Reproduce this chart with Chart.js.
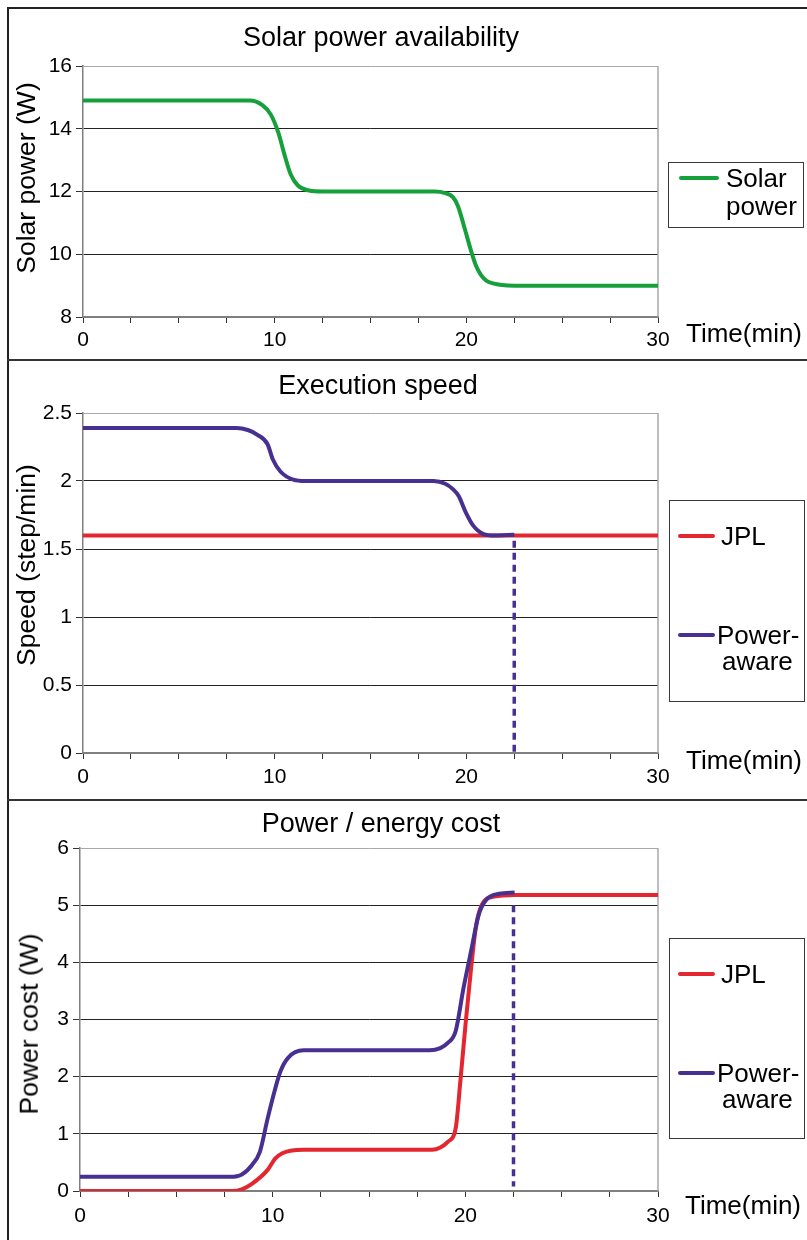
<!DOCTYPE html>
<html>
<head>
<meta charset="utf-8">
<script src="https://cdn.jsdelivr.net/npm/chart.js@4"></script>
<style>
  body { margin: 0; background: #fff; font-family: "Liberation Sans", Arial, sans-serif; }
  #page { position: relative; width: 807px; height: 1240px; overflow: hidden; }
  canvas { position: absolute; left: 0; }
  .txt { position: absolute; white-space: nowrap; color: #000; }
  .rot { position: absolute; white-space: nowrap; color: #000; transform: translate(-50%, -50%) rotate(-90deg); }
  .lgbox { position: absolute; border: 1.5px solid #3a3a3a; box-sizing: border-box; }
  .lgline { position: absolute; height: 4px; border-radius: 2px; }
  .hline { position: absolute; left: 7px; right: 0; height: 2px; background: #333; }
</style>
</head>
<body>
<div id="page">
  <div style="position:absolute;left:7px;top:7px;width:1.5px;height:1240px;background:#222"></div>
  <div style="position:absolute;left:7px;top:7px;right:0;height:1.5px;background:#222"></div>
  <div class="hline" style="top:359px"></div>
  <div class="hline" style="top:799px"></div>
  <canvas id="c1" width="807" height="360" style="top:0"></canvas>
  <canvas id="c2" width="807" height="440" style="top:360px"></canvas>
  <canvas id="c3" width="807" height="440" style="top:800px"></canvas>
</div>
<script>
"use strict";

// ---- data (time in min) ----
const solarT = [0, 8.7, 9.36, 9.8, 10.2, 10.5, 10.84, 11.2, 11.8, 12.5, 18.36, 18.9, 19.3, 19.56, 19.97, 20.25, 20.5, 20.75, 21.04, 21.4, 21.85, 22.5, 30];
const solarW = [14.9, 14.9, 14.75, 14.45, 13.86, 13.2, 12.54, 12.2, 12.03, 12.0, 12.0, 11.95, 11.82, 11.54, 10.7, 10.1, 9.64, 9.35, 9.16, 9.07, 9.02, 9.0, 9.0];

const speedT = [0, 8.0, 8.6, 9.1, 9.63, 9.9, 10.3, 10.97, 11.6, 18.3, 18.9, 19.3, 19.6, 19.97, 20.37, 20.9, 21.45, 22.5];
const speedAware = [2.39, 2.39, 2.375, 2.34, 2.27, 2.16, 2.07, 2.01, 2.0, 2.0, 1.98, 1.94, 1.89, 1.77, 1.67, 1.61, 1.6, 1.605];
const speedJplT = [0, 30];
const speedJpl = [1.6, 1.6];
const speedStopT = [22.5, 22.5];
const speedStop = [1.56, 0];

const costAwareT = [0, 7.8, 8.4, 8.94, 9.34, 9.74, 10.1, 10.4, 10.8, 11.6, 18.15, 18.7, 19.09, 19.5, 19.9, 20.3, 20.7, 21.1, 21.76, 22.56];
const costAware = [0.25, 0.25, 0.29, 0.46, 0.69, 1.27, 1.75, 2.09, 2.33, 2.46, 2.46, 2.5, 2.59, 2.8, 3.54, 4.2, 4.84, 5.1, 5.2, 5.22];
const costJplT = [0, 7.9, 8.4, 8.94, 9.74, 10.14, 10.5, 11.0, 11.6, 18.28, 18.7, 19.09, 19.5, 19.75, 20.02, 20.3, 20.55, 20.82, 21.48, 22.56, 30];
const costJpl = [0, 0, 0.03, 0.13, 0.37, 0.57, 0.66, 0.71, 0.72, 0.72, 0.76, 0.86, 1.1, 1.95, 2.95, 3.9, 4.62, 4.98, 5.15, 5.18, 5.18];
const costStopT = [22.5, 22.5];
const costStop = [5.0, 0.08];

const xLabelEvery = 10;
const GREEN = "#16a03c", RED = "#e3262f", PURPLE = "#47308f";

Chart.defaults.font.family = '"Liberation Sans", Arial, sans-serif';
Chart.defaults.color = "#000";

function pts(xs, ys) {
  return xs.map((x, i) => ({ x: x, y: ys[i] }));
}

// gray frame on the right side of the plot area
const plotFrame = {
  id: "plotFrame",
  beforeDatasetsDraw(chart) {
    const a = chart.chartArea, ctx = chart.ctx;
    ctx.save();
    ctx.strokeStyle = "#a8a8a8";
    ctx.lineWidth = 1.5;
    ctx.beginPath();
    ctx.moveTo(a.right, a.top);
    ctx.lineTo(a.right, a.bottom);
    ctx.stroke();
    ctx.restore();
  }
};

function panelChart(id, area, y, datasets) {
  return new Chart(document.getElementById(id), {
    type: "line",
    data: { datasets: datasets },
    options: {
      responsive: false,
      animation: false,
      devicePixelRatio: 1,
      layout: { padding: { top: area.top, right: 807 - area.right, left: 0, bottom: 0 } },
      elements: { point: { radius: 0 } },
      plugins: { legend: { display: false }, tooltip: { enabled: false } },
      scales: {
        x: {
          type: "linear", min: 0, max: 30,
          afterFit: s => { s.height = area.h - area.bottom; },
          border: { color: "#7f7f7f", width: 2 },
          grid: { drawOnChartArea: false, tickLength: 6, tickColor: "#333" },
          ticks: {
            stepSize: 2.5, autoSkip: false, maxRotation: 0, padding: area.labelPad,
            font: { size: 21 },
            callback: v => (v % xLabelEvery === 0 ? String(v) : "")
          }
        },
        y: {
          min: y.min, max: y.max,
          afterFit: s => { s.width = area.left; },
          border: { color: "#7f7f7f", width: 1.5 },
          grid: {
            tickLength: 7, tickColor: "#333",
            color: c => (c.tick.value === y.max ? "#a8a8a8" : "#222"),
            lineWidth: 1
          },
          ticks: { stepSize: y.step, padding: 4, font: { size: 21 }, callback: v => String(v) }
        }
      }
    },
    plugins: [plotFrame]
  });
}

function line(label, xs, ys, color, order, dash) {
  return {
    label: label,
    data: pts(xs, ys),
    borderColor: color,
    borderWidth: dash ? 3.5 : 4,
    borderDash: dash || [],
    cubicInterpolationMode: dash ? "default" : "monotone",
    tension: 0,
    fill: false,
    order: order
  };
}

panelChart("c1", { left: 83, right: 658, top: 66, bottom: 317, h: 360, labelPad: 5 }, { min: 8, max: 16, step: 2 }, [
  line("Solar power", solarT, solarW, GREEN, 0)
]);

panelChart("c2", { left: 83, right: 658, top: 53, bottom: 393, h: 440, labelPad: 6 }, { min: 0, max: 2.5, step: 0.5 }, [
  line("Power-aware", speedT, speedAware, PURPLE, 0),
  line("", speedStopT, speedStop, PURPLE, 1, [7, 5]),
  line("JPL", speedJplT, speedJpl, RED, 2)
]);

panelChart("c3", { left: 80, right: 658, top: 48, bottom: 391, h: 440, labelPad: 7 }, { min: 0, max: 6, step: 1 }, [
  line("Power-aware", costAwareT, costAware, PURPLE, 0),
  line("", costStopT, costStop, PURPLE, 1, [7, 5]),
  line("JPL", costJplT, costJpl, RED, 2)
]);

// ---- texts, legends ----
const page = document.getElementById("page");
function text(str, x, cy, size, center) {
  const d = document.createElement("div");
  d.className = "txt";
  d.textContent = str;
  d.style.fontSize = size + "px";
  d.style.lineHeight = size + "px";
  d.style.top = (cy - size / 2) + "px";
  d.style.left = x + "px";
  if (center) d.style.transform = "translateX(-50%)";
  page.appendChild(d);
}
function vtext(str, cx, cy, size) {
  const d = document.createElement("div");
  d.className = "rot";
  d.textContent = str;
  d.style.fontSize = size + "px";
  d.style.lineHeight = size + "px";
  d.style.left = cx + "px";
  d.style.top = cy + "px";
  page.appendChild(d);
}
function box(x1, y1, x2, y2) {
  const d = document.createElement("div");
  d.className = "lgbox";
  d.style.left = x1 + "px"; d.style.top = y1 + "px";
  d.style.width = (x2 - x1) + "px"; d.style.height = (y2 - y1) + "px";
  page.appendChild(d);
}
function swatch(x1, x2, cy, color) {
  const d = document.createElement("div");
  d.className = "lgline";
  d.style.left = x1 + "px"; d.style.width = (x2 - x1) + "px";
  d.style.top = (cy - 2) + "px"; d.style.background = color;
  page.appendChild(d);
}

text("Solar power availability", 381, 37, 27, true);
text("Execution speed", 378, 385, 27, true);
text("Power / energy cost", 381, 823, 27, true);

vtext("Solar power (W)", 26, 178, 26.5);
vtext("Speed (step/min)", 26, 565, 26.5);
vtext("Power cost (W)", 29, 1024, 26.5);

text("Time(min)", 686, 333, 26);
text("Time(min)", 686, 760, 26);
text("Time(min)", 685, 1205, 26);

box(668, 162, 804, 228);
swatch(679, 719, 178, GREEN);
text("Solar", 726, 178, 26);
text("power", 726, 206, 26);

[[500, 702], [938, 1139]].forEach(([t, b]) => {
  box(669, t, 805, b);
  swatch(678, 715, t + 36, RED);
  text("JPL", 721, t + 36, 26);
  swatch(678, 715, t + 135, PURPLE);
  text("Power-", 717, t + 135, 26);
  text("aware", 722, t + 161, 26);
});
</script>
</body>
</html>
